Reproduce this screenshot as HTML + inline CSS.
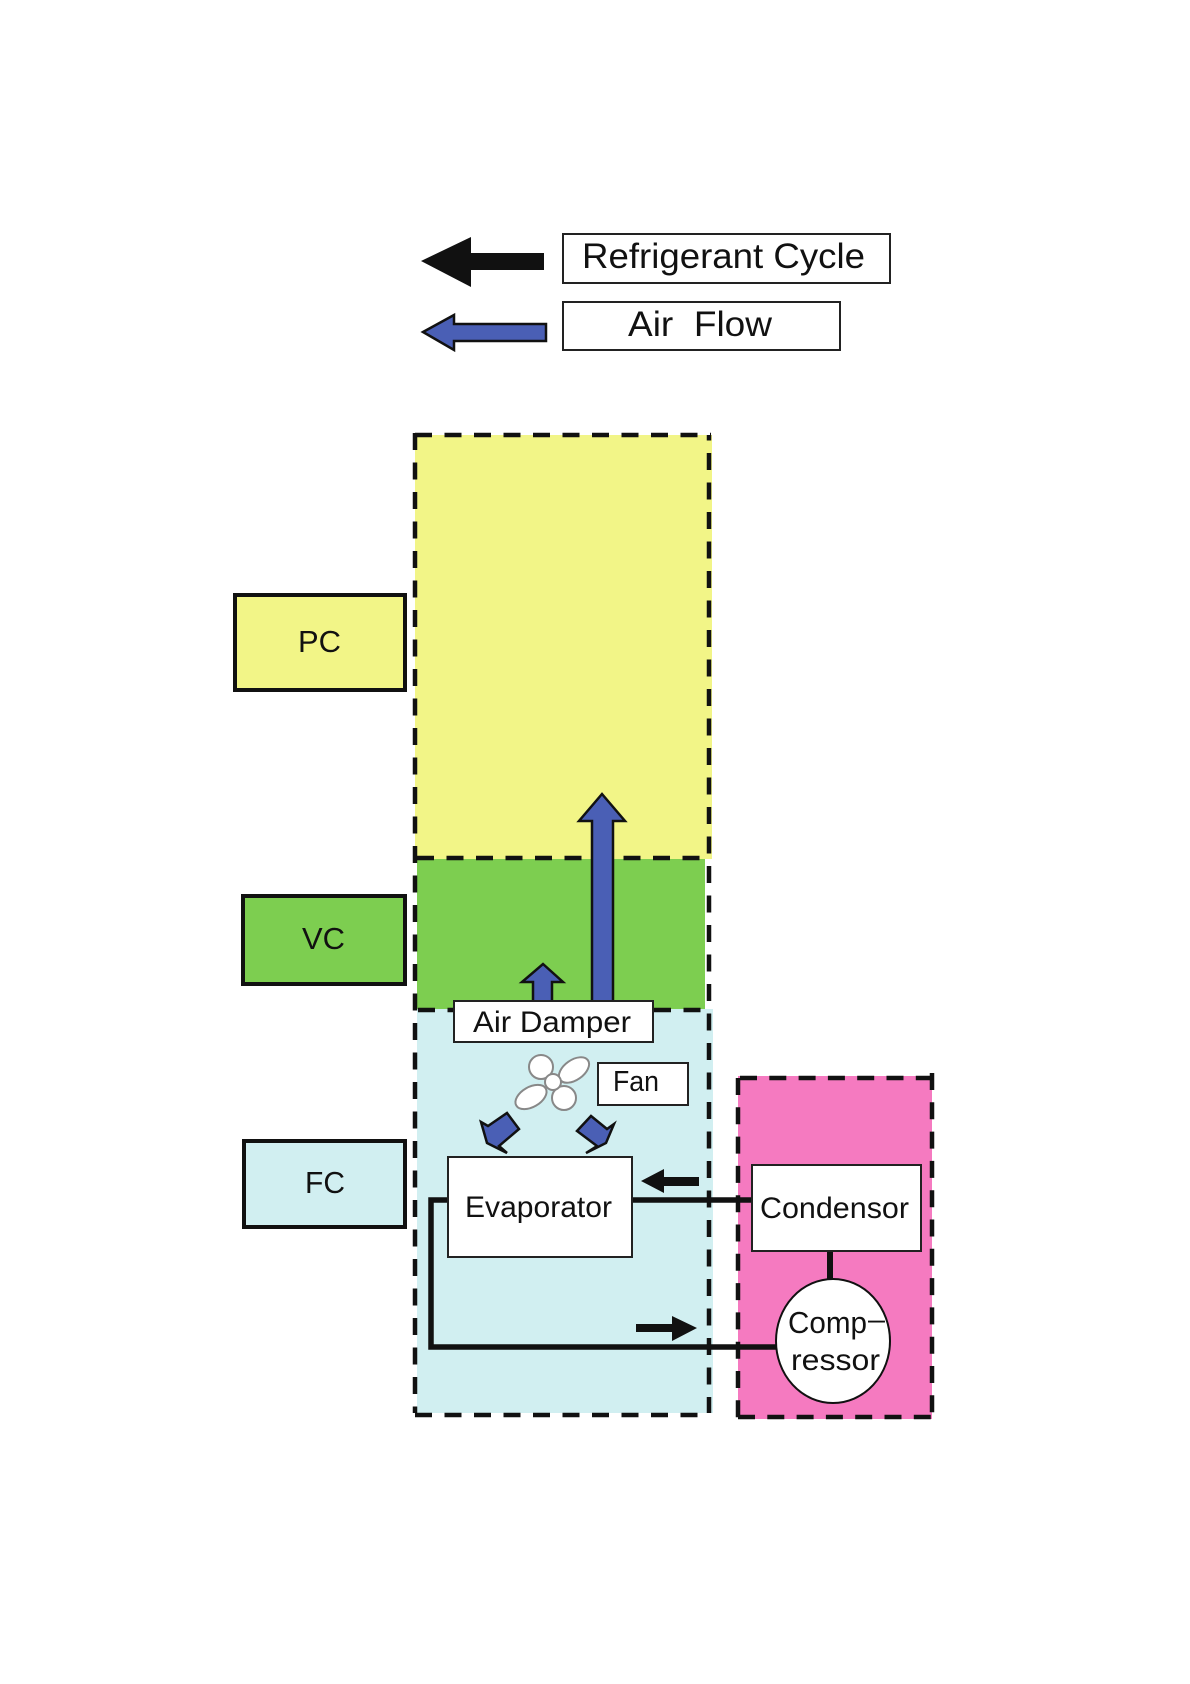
<!DOCTYPE html>
<html>
<head>
<meta charset="utf-8">
<style>
html,body{margin:0;padding:0;background:#fff;width:1190px;height:1684px;overflow:hidden}
svg{display:block}
text{font-family:"Liberation Sans","Noto Sans CJK JP",sans-serif;fill:#111;white-space:pre}
</style>
</head>
<body>
<svg width="1190" height="1684" viewBox="0 0 1190 1684" xmlns="http://www.w3.org/2000/svg">
<rect width="1190" height="1684" fill="#fff"/>

<!-- legend -->
<polygon points="421,261 471,237 471,253 544,253 544,270 471,270 471,287" fill="#111"/>
<rect x="563" y="234" width="327" height="49" fill="#fff" stroke="#222" stroke-width="2"/>
<text x="582" y="268" font-size="35" textLength="283" lengthAdjust="spacingAndGlyphs">Refrigerant Cycle</text>
<polygon points="423,332 454,315 454,324 546,324 546,341 454,341 454,350" fill="#4a5fb5" stroke="#111" stroke-width="2.5"/>
<rect x="563" y="302" width="277" height="48" fill="#fff" stroke="#222" stroke-width="2"/>
<text x="628" y="336" font-size="35" textLength="144" lengthAdjust="spacingAndGlyphs">Air  Flow</text>

<!-- regions -->
<rect x="415" y="435" width="297" height="424" fill="#f2f587"/>
<rect x="417" y="859" width="288" height="150" fill="#7dce50"/>
<rect x="417" y="1009" width="296" height="404" fill="#d1eff1"/>
<rect x="738" y="1076" width="194" height="343" fill="#f57ac0"/>

<!-- dashed boundaries -->
<g stroke="#111" stroke-width="4.5" fill="none" stroke-dasharray="17 12.5">
<line x1="415" y1="433" x2="415" y2="1413"/>
<line x1="415" y1="435" x2="711" y2="435"/>
<line x1="709" y1="435" x2="709" y2="1413" stroke-dashoffset="11.5"/>
<line x1="415" y1="1415" x2="698" y2="1415"/>
<line x1="417" y1="858" x2="700" y2="858"/>
<line x1="418" y1="1010" x2="702" y2="1010"/>
</g>
<g stroke="#111" stroke-width="4.5" fill="none" stroke-dasharray="17 12.3">
<line x1="738" y1="1078" x2="738" y2="1419"/>
<line x1="932" y1="1073" x2="932" y2="1419"/>
<line x1="740" y1="1078" x2="933" y2="1078"/>
<line x1="738" y1="1417" x2="932" y2="1417"/>
</g>

<!-- region labels -->
<rect x="235" y="595" width="170" height="95" fill="#f2f587" stroke="#111" stroke-width="4"/>
<text x="298" y="652" font-size="31" textLength="43" lengthAdjust="spacingAndGlyphs">PC</text>
<rect x="243" y="896" width="162" height="88" fill="#7dce50" stroke="#111" stroke-width="4"/>
<text x="302" y="949" font-size="31" textLength="43" lengthAdjust="spacingAndGlyphs">VC</text>
<rect x="244" y="1141" width="161" height="86" fill="#d1eff1" stroke="#111" stroke-width="4"/>
<text x="305" y="1193" font-size="31" textLength="40" lengthAdjust="spacingAndGlyphs">FC</text>

<!-- air arrows -->
<polygon points="602,794 625,821 613,821 613,1002 592,1002 592,821 579,821" fill="#4a5fb5" stroke="#111" stroke-width="2.5"/>
<polygon points="543,964 563,982 552,982 552,1002 533,1002 533,982 522,982" fill="#4a5fb5" stroke="#111" stroke-width="2.5"/>
<polygon points="481,1122 488,1126 507,1113 519,1129 499,1146 507,1153 487,1143" fill="#4a5fb5" stroke="#111" stroke-width="2.5"/>
<polygon points="614,1124 607,1129 591,1116 577,1131 597,1146 586,1153 606,1143" fill="#4a5fb5" stroke="#111" stroke-width="2.5"/>

<!-- air damper -->
<rect x="454" y="1001" width="199" height="41" fill="#fff" stroke="#222" stroke-width="2"/>
<text x="473" y="1032" font-size="30" textLength="158" lengthAdjust="spacingAndGlyphs">Air Damper</text>

<!-- fan -->
<g fill="#fff" stroke="#888" stroke-width="2">
<circle cx="541" cy="1067" r="12"/>
<circle cx="564" cy="1098" r="12"/>
<ellipse cx="574" cy="1070" rx="17" ry="10" transform="rotate(-35 574 1070)"/>
<ellipse cx="531" cy="1097" rx="17" ry="10" transform="rotate(-30 531 1097)"/>
<circle cx="553" cy="1082" r="8"/>
</g>
<rect x="598" y="1063" width="90" height="42" fill="#fff" stroke="#222" stroke-width="2"/>
<text x="613" y="1091" font-size="29" textLength="46" lengthAdjust="spacingAndGlyphs">Fan</text>

<!-- refrigerant pipes -->
<g stroke="#111" stroke-width="5.5" fill="none">
<polyline points="447,1200 431,1200 431,1347 778,1347"/>
<line x1="632" y1="1200" x2="752" y2="1200"/>
<line x1="830" y1="1251" x2="830" y2="1285" stroke-width="6"/>
</g>
<polygon points="641,1181 664,1169 664,1177 699,1177 699,1186 664,1186 664,1193" fill="#111"/>
<polygon points="697,1328 672,1316 672,1324 636,1324 636,1332 672,1332 672,1341" fill="#111"/>

<!-- evaporator -->
<rect x="448" y="1157" width="184" height="100" fill="#fff" stroke="#222" stroke-width="2"/>
<text x="465" y="1217" font-size="30" textLength="147" lengthAdjust="spacingAndGlyphs">Evaporator</text>

<!-- condensor -->
<rect x="752" y="1165" width="169" height="86" fill="#fff" stroke="#222" stroke-width="2"/>
<text x="760" y="1218" font-size="30" textLength="149" lengthAdjust="spacingAndGlyphs">Condensor</text>

<!-- compressor -->
<ellipse cx="833" cy="1341" rx="57" ry="62" fill="#fff" stroke="#111" stroke-width="2"/>
<text x="788" y="1333" font-size="31" textLength="79" lengthAdjust="spacingAndGlyphs">Comp</text>
<text x="868" y="1329" font-size="29" textLength="17" lengthAdjust="spacingAndGlyphs">–</text>
<text x="791" y="1370" font-size="30" textLength="89" lengthAdjust="spacingAndGlyphs">ressor</text>
</svg>
</body>
</html>
